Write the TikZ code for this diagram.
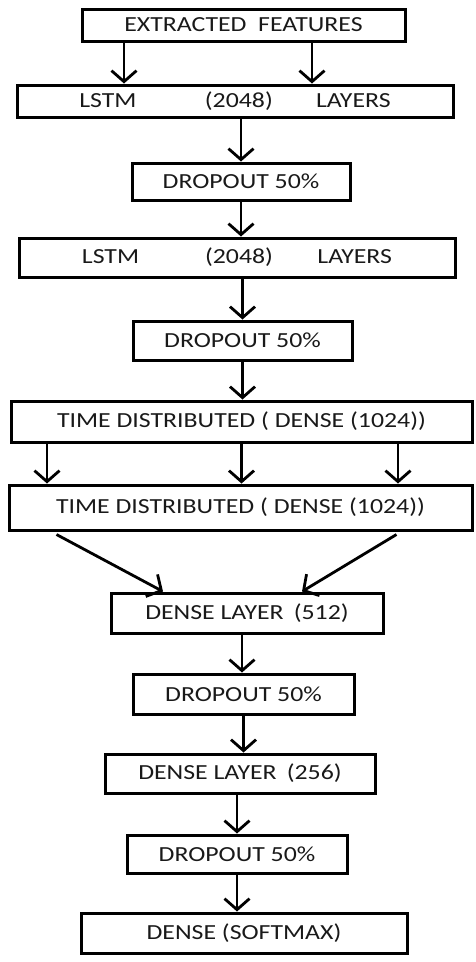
\documentclass[tikz,border=0pt]{standalone}
\usepackage{fontspec}
\setmainfont{Carlito}
\usepackage{graphicx}
\usetikzlibrary{arrows.meta}
\usetikzlibrary{positioning}

\newcommand{\wtext}[1]{\scalebox{1.2}[1]{#1}}

\begin{document}
\begin{tikzpicture}[x=1pt,y=-1pt,->,>={Straight Barb[length=11pt,width=25pt,line width=2.8pt]},line width=2.8pt]
	\tikzstyle{layer}=[draw, rectangle, inner sep=0pt, line width=3pt, text=black!90, font=\fontsize{21.5}{24}\selectfont]
	\useasboundingbox (0,0) rectangle (475,962);
	\node[layer, minimum width=323pt, minimum height=32pt] (feat)   at (243.5,25)  {\wtext{EXTRACTED\ \ FEATURES}};
	\node[layer, minimum width=436pt, minimum height=32pt] (lstmA)  at (235,101)   {\wtext{LSTM\hspace{57pt}(2048)\hspace{36pt}LAYERS}};
	\node[layer, minimum width=218pt, minimum height=37pt] (dropA)  at (241,181.5)  {\wtext{DROPOUT 50\%}};
	\node[layer, minimum width=436pt, minimum height=39pt] (lstmB)  at (237,257.5)  {\wtext{LSTM\hspace{55pt}(2048)\hspace{37pt}LAYERS}};
	\node[layer, minimum width=219pt, minimum height=39pt] (dropB)  at (242.5,340.5) {\wtext{DROPOUT 50\%}};
	\node[layer, minimum width=461pt, minimum height=41pt] (timeA)  at (241.5,421.5) {\wtext{TIME DISTRIBUTED ( DENSE (1024))}};
	\node[layer, minimum width=463pt, minimum height=45pt] (timeB)  at (240.5,507.5) {\wtext{TIME DISTRIBUTED ( DENSE (1024))}};
	\node[layer, minimum width=272pt, minimum height=40pt] (denseA) at (247,613)   {\wtext{DENSE LAYER\ \,(512)}};
	\node[layer, minimum width=221pt, minimum height=40pt] (dropC)  at (243.5,694) {\wtext{DROPOUT 50\%}};
	\node[layer, minimum width=270pt, minimum height=39pt] (denseB) at (240,773.5)  {\wtext{DENSE LAYER\ \,(256)}};
	\node[layer, minimum width=220pt, minimum height=38pt] (dropD)  at (237,854)   {\wtext{DROPOUT 50\%}};
	\node[layer, minimum width=326pt, minimum height=40pt] (soft)   at (244,933)   {\wtext{DENSE (SOFTMAX)}};
	\path
		([xshift=-119.5pt]feat.south) edge ([xshift=-119.5pt]feat.south |- lstmA.north)
		([xshift=68.5pt]feat.south) edge ([xshift=68.5pt]feat.south |- lstmA.north)
		(dropA.north |- lstmA.south) edge (dropA.north)
		(dropA.south) edge (dropA.south |- lstmB.north)
		(dropB.north |- lstmB.south) edge (dropB.north)
		(dropB.south) edge (dropB.south |- timeA.north)
		([xshift=-194.5pt]timeA.south) edge ([xshift=-194.5pt]timeA.south |- timeB.north)
		(timeA.south) edge (timeA.south |- timeB.north)
		([xshift=156.5pt]timeA.south) edge ([xshift=156.5pt]timeA.south |- timeB.north)
		([xshift=-184pt,yshift=-3pt]timeB.south) edge ([xshift=-84pt]denseA.north)
		([xshift=156pt,yshift=-3pt]timeB.south) edge ([xshift=55pt]denseA.north)
		([xshift=-5pt]denseA.south) edge ([xshift=-5pt]denseA.south |- dropC.north)
		(dropC.south) edge (dropC.south |- denseB.north)
		(dropD.north |- denseB.south) edge (dropD.north)
		(dropD.south) edge (dropD.south |- soft.north);
\end{tikzpicture}
\end{document}
